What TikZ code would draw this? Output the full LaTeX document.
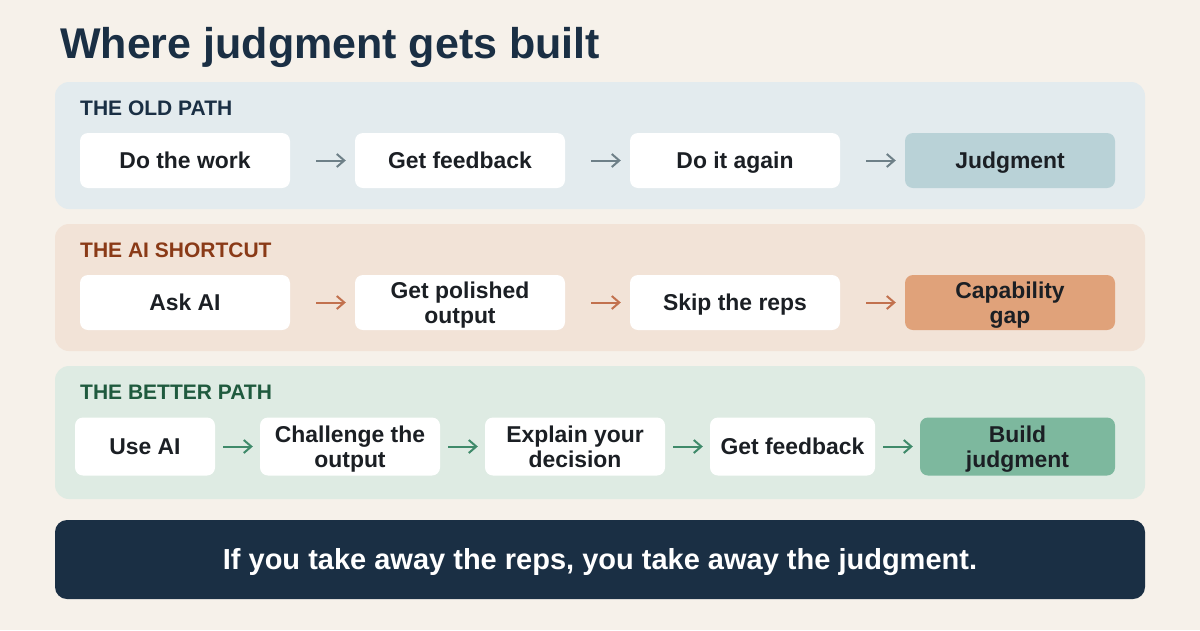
\documentclass[tikz,border=0pt]{standalone}
\usepackage{fontspec}
\setmainfont{Liberation Sans}
\usetikzlibrary{arrows.meta}
\definecolor{cream}{HTML}{F6F1EA}
\definecolor{navy}{HTML}{1A2F44}
\definecolor{inkdark}{HTML}{1B1F24}
\definecolor{oldbg}{HTML}{E3EBEE}
\definecolor{oldend}{HTML}{B9D2D7}
\definecolor{oldarrow}{HTML}{6E8088}
\definecolor{aibg}{HTML}{F2E3D7}
\definecolor{aiend}{HTML}{E0A27A}
\definecolor{aiarrow}{HTML}{C2714E}
\definecolor{aitext}{HTML}{8A3A17}
\definecolor{betterbg}{HTML}{DEEBE3}
\definecolor{betterend}{HTML}{7DB89E}
\definecolor{betterarrow}{HTML}{3F8A6A}
\definecolor{bettertext}{HTML}{1F5A3E}
\begin{document}
\begin{tikzpicture}[x=1pt, y=-1pt,
	box/.style={fill=white, rounded corners=8pt, inner sep=0pt, align=center, text=inkdark, minimum height=55pt, text height=16pt, text depth=0pt, font=\fontsize{22.9}{25}\selectfont\bfseries},
	twoline/.style={text height=41pt},
	panel/.style={rounded corners=14pt},
	pathname/.style={anchor=west, inner sep=0pt, font=\fontsize{21}{24}\selectfont\bfseries},
	flow/.style={line width=2pt, -{Straight Barb[length=7.5pt,width=13pt]}},
]
	\fill[cream] (0,0) rectangle (1200,630);
	\node[anchor=base west, inner sep=0pt, text=navy, font=\fontsize{43}{50}\selectfont\bfseries] (title) at (60,58) {Where judgment gets built};

	% the old path
	\fill[panel, oldbg] (55,82) rectangle (1145,209);
	\node[pathname, text=navy] (oldname) at (80,108) {THE OLD PATH};
	\node[box, minimum width=210pt] (o1) at (185,160.5) {Do the work};
	\node[box, minimum width=210pt] (o2) at (460,160.5) {Get feedback};
	\node[box, minimum width=210pt] (o3) at (735,160.5) {Do it again};
	\node[box, minimum width=210pt, fill=oldend] (o4) at (1010,160.5) {Judgment};
	\foreach \a/\b in {o1/o2, o2/o3, o3/o4}
		\draw[flow, oldarrow, shorten <=26pt, shorten >=9pt] (\a) -- (\b);

	% the AI shortcut
	\fill[panel, aibg] (55,224) rectangle (1145,351);
	\node[pathname, text=aitext] (ainame) at (80,250.5) {THE AI SHORTCUT};
	\node[box, minimum width=210pt] (a1) at (185,302.5) {Ask AI};
	\node[box, twoline, minimum width=210pt] (a2) at (460,302.5) {Get polished\\output};
	\node[box, minimum width=210pt] (a3) at (735,302.5) {Skip the reps};
	\node[box, twoline, minimum width=210pt, fill=aiend] (a4) at (1010,302.5) {Capability\\gap};
	\foreach \a/\b in {a1/a2, a2/a3, a3/a4}
		\draw[flow, aiarrow, shorten <=26pt, shorten >=9pt] (\a) -- (\b);

	% the better path
	\fill[panel, betterbg] (55,366) rectangle (1145,499);
	\node[pathname, text=bettertext] (bettername) at (80,392.5) {THE BETTER PATH};
	\node[box, minimum width=140pt, minimum height=58pt] (b1) at (145,446.5) {Use AI};
	\node[box, twoline, minimum width=180pt, minimum height=58pt] (b2) at (350,446.5) {Challenge the\\output};
	\node[box, twoline, minimum width=180pt, minimum height=58pt] (b3) at (575,446.5) {Explain your\\decision};
	\node[box, minimum width=165pt, minimum height=58pt] (b4) at (792.5,446.5) {Get feedback};
	\node[box, twoline, minimum width=195pt, minimum height=58pt, fill=betterend] (b5) at (1017.5,446.5) {Build\\judgment};
	\foreach \a/\b in {b1/b2, b2/b3, b3/b4, b4/b5}
		\draw[flow, betterarrow, shorten <=8pt, shorten >=7pt] (\a) -- (\b);

	% closing line
	\node[fill=navy, rounded corners=12pt, minimum width=1090pt, minimum height=79pt, inner sep=0pt, text height=20.8pt, text depth=0pt, text=white, font=\fontsize{29}{32}\selectfont\bfseries] (msg) at (600,559.5) {If you take away the reps, you take away the judgment.};
\end{tikzpicture}
\end{document}
